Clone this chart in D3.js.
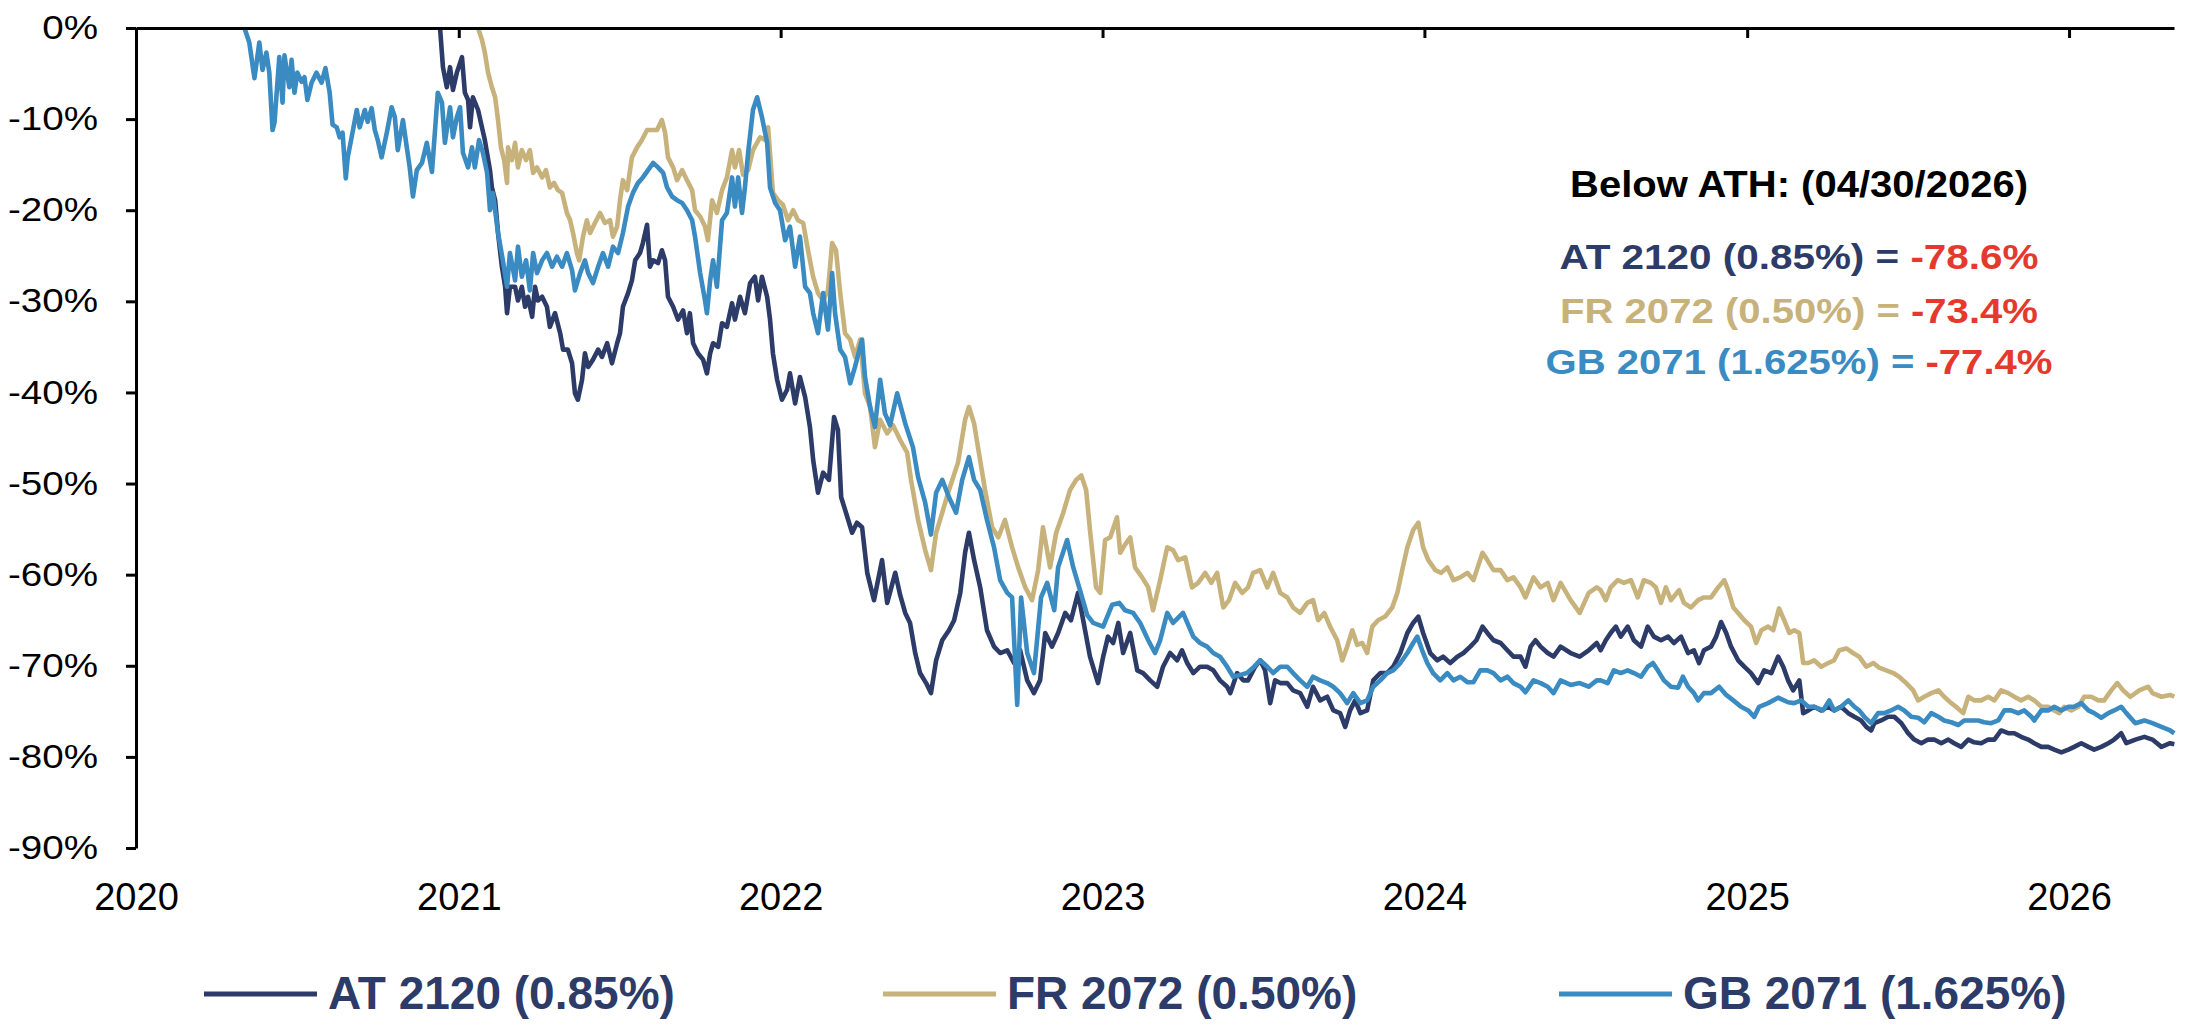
<!DOCTYPE html>
<html>
<head>
<meta charset="utf-8">
<script src="https://cdn.jsdelivr.net/npm/d3@7"></script>
<style>
    html, body { margin: 0; padding: 0; background: #fff; }
    svg { display: block; }
</style>
</head>
<body>
<div id="chart"></div>
<script>
// drawdown from all-time high, in %, dates as decimal years
let atSeries = [[2020.942,0],[2020.951,-4.3],[2020.963,-6.5],[2020.973,-4.3],[2020.982,-6.8],[2020.994,-4.9],[2021.010,-3.2],[2021.019,-7.1],[2021.029,-7.9],[2021.035,-10.9],[2021.044,-7.6],[2021.060,-9.0],[2021.072,-10.9],[2021.081,-12.3],[2021.097,-15.6],[2021.103,-17.5],[2021.113,-18.9],[2021.122,-22.5],[2021.134,-26.2],[2021.144,-28.4],[2021.150,-31.3],[2021.159,-28.4],[2021.175,-28.4],[2021.184,-29.9],[2021.196,-28.4],[2021.206,-30.6],[2021.215,-29.5],[2021.228,-31.7],[2021.237,-28.4],[2021.246,-29.9],[2021.259,-29.5],[2021.274,-30.6],[2021.283,-32.8],[2021.299,-31.3],[2021.315,-33.5],[2021.324,-35.3],[2021.339,-35.3],[2021.352,-36.8],[2021.361,-40.1],[2021.370,-40.8],[2021.383,-38.6],[2021.392,-35.7],[2021.402,-37.2],[2021.417,-36.4],[2021.433,-35.3],[2021.445,-36.1],[2021.461,-34.6],[2021.476,-36.8],[2021.492,-34.6],[2021.501,-33.5],[2021.510,-30.6],[2021.526,-29.1],[2021.538,-27.7],[2021.548,-25.5],[2021.563,-24.7],[2021.572,-23.6],[2021.585,-21.6],[2021.594,-26.2],[2021.604,-25.5],[2021.619,-25.8],[2021.631,-24.4],[2021.641,-25.5],[2021.650,-29.5],[2021.666,-30.6],[2021.681,-32.0],[2021.697,-31.0],[2021.709,-33.5],[2021.718,-31.3],[2021.728,-34.6],[2021.743,-35.7],[2021.759,-36.4],[2021.771,-37.9],[2021.781,-35.7],[2021.790,-34.6],[2021.806,-35.0],[2021.818,-32.4],[2021.833,-32.8],[2021.849,-30.2],[2021.858,-32.0],[2021.874,-29.5],[2021.889,-31.3],[2021.905,-28.0],[2021.920,-27.3],[2021.930,-29.9],[2021.942,-27.3],[2021.958,-29.5],[2021.967,-32.0],[2021.976,-35.7],[2021.989,-38.6],[2022.004,-40.8],[2022.020,-39.7],[2022.029,-37.9],[2022.045,-41.2],[2022.060,-38.3],[2022.076,-40.5],[2022.091,-43.8],[2022.101,-47.4],[2022.116,-51.0],[2022.132,-48.8],[2022.150,-49.6],[2022.166,-42.7],[2022.178,-44.1],[2022.188,-51.5],[2022.203,-53.2],[2022.222,-55.4],[2022.237,-54.3],[2022.253,-54.8],[2022.269,-59.8],[2022.290,-62.8],[2022.315,-58.4],[2022.331,-63.1],[2022.356,-59.8],[2022.371,-62.2],[2022.387,-64.2],[2022.402,-65.3],[2022.418,-68.6],[2022.433,-70.8],[2022.452,-71.9],[2022.467,-73.0],[2022.483,-69.4],[2022.502,-67.2],[2022.523,-66.1],[2022.539,-65.0],[2022.558,-62.0],[2022.573,-57.6],[2022.585,-55.4],[2022.601,-58.4],[2022.620,-61.4],[2022.641,-66.1],[2022.663,-67.9],[2022.682,-68.6],[2022.704,-68.3],[2022.725,-69.7],[2022.744,-68.3],[2022.766,-71.6],[2022.787,-73.0],[2022.806,-71.6],[2022.822,-66.4],[2022.843,-67.9],[2022.862,-66.4],[2022.884,-64.2],[2022.902,-65.0],[2022.924,-62.0],[2022.940,-65.0],[2022.961,-69.0],[2022.986,-71.9],[2023.002,-69.0],[2023.017,-66.8],[2023.033,-67.5],[2023.049,-65.3],[2023.064,-68.6],[2023.086,-66.4],[2023.108,-70.5],[2023.126,-70.8],[2023.148,-71.6],[2023.170,-72.3],[2023.188,-70.1],[2023.210,-68.6],[2023.232,-69.4],[2023.247,-68.3],[2023.263,-69.7],[2023.282,-70.8],[2023.303,-70.1],[2023.325,-70.1],[2023.344,-70.5],[2023.365,-71.6],[2023.387,-72.3],[2023.397,-73.0],[2023.418,-70.8],[2023.437,-71.6],[2023.452,-71.6],[2023.474,-70.1],[2023.490,-69.4],[2023.505,-70.5],[2023.521,-74.1],[2023.536,-71.6],[2023.552,-71.9],[2023.574,-71.9],[2023.592,-72.7],[2023.614,-73.0],[2023.636,-74.5],[2023.654,-72.3],[2023.676,-73.8],[2023.698,-73.4],[2023.717,-74.9],[2023.738,-75.2],[2023.754,-76.7],[2023.769,-74.9],[2023.785,-73.8],[2023.801,-75.2],[2023.822,-74.9],[2023.841,-71.6],[2023.863,-70.8],[2023.884,-70.8],[2023.903,-70.1],[2023.925,-68.6],[2023.947,-66.4],[2023.965,-65.3],[2023.981,-64.6],[2023.996,-66.4],[2024.018,-68.6],[2024.040,-69.4],[2024.058,-69.0],[2024.080,-69.7],[2024.102,-69.0],[2024.121,-68.6],[2024.142,-67.9],[2024.161,-67.2],[2024.180,-65.7],[2024.195,-66.4],[2024.214,-67.2],[2024.236,-67.5],[2024.257,-68.3],[2024.276,-69.0],[2024.298,-69.0],[2024.313,-70.1],[2024.329,-67.9],[2024.344,-67.2],[2024.360,-67.9],[2024.382,-68.6],[2024.400,-69.0],[2024.422,-67.9],[2024.453,-68.6],[2024.481,-69.0],[2024.509,-68.3],[2024.534,-67.5],[2024.546,-68.3],[2024.562,-67.2],[2024.577,-66.4],[2024.593,-65.7],[2024.608,-66.8],[2024.630,-65.7],[2024.649,-67.2],[2024.671,-67.9],[2024.692,-65.7],[2024.711,-66.8],[2024.733,-67.2],[2024.755,-66.8],[2024.773,-67.5],[2024.795,-66.8],[2024.817,-68.6],[2024.835,-68.3],[2024.851,-69.7],[2024.866,-68.3],[2024.888,-67.9],[2024.904,-66.8],[2024.919,-65.2],[2024.935,-66.4],[2024.950,-67.9],[2024.972,-69.4],[2024.991,-70.1],[2025.012,-70.8],[2025.034,-71.9],[2025.053,-70.5],[2025.075,-70.8],[2025.096,-69.0],[2025.112,-70.1],[2025.127,-71.6],[2025.143,-72.7],[2025.162,-71.6],[2025.174,-75.2],[2025.190,-74.9],[2025.208,-74.5],[2025.230,-74.9],[2025.252,-74.5],[2025.270,-74.9],[2025.292,-74.5],[2025.314,-75.2],[2025.333,-75.6],[2025.354,-76.0],[2025.370,-76.7],[2025.385,-77.1],[2025.395,-76.3],[2025.416,-76.0],[2025.438,-75.6],[2025.457,-75.6],[2025.479,-76.3],[2025.500,-77.4],[2025.519,-78.1],[2025.541,-78.5],[2025.562,-78.1],[2025.581,-78.1],[2025.603,-78.5],[2025.625,-78.1],[2025.643,-78.5],[2025.665,-78.9],[2025.687,-78.1],[2025.705,-78.4],[2025.727,-78.5],[2025.749,-78.1],[2025.768,-78.1],[2025.789,-77.1],[2025.811,-77.4],[2025.830,-77.4],[2025.851,-77.8],[2025.873,-78.1],[2025.892,-78.5],[2025.914,-78.9],[2025.935,-78.9],[2025.954,-79.2],[2025.976,-79.5],[2025.998,-79.2],[2026.016,-78.9],[2026.038,-78.5],[2026.060,-78.9],[2026.078,-79.2],[2026.100,-78.9],[2026.122,-78.5],[2026.140,-78.1],[2026.162,-77.4],[2026.178,-78.5],[2026.206,-78.1],[2026.234,-77.8],[2026.259,-78.1],[2026.287,-78.9],[2026.314,-78.5],[2026.327,-78.6]];

let frSeries = [[2021.060,0],[2021.072,-1.3],[2021.081,-2.7],[2021.091,-4.9],[2021.103,-6.5],[2021.113,-7.6],[2021.122,-10.1],[2021.131,-13.1],[2021.141,-14.5],[2021.150,-17.0],[2021.153,-13.1],[2021.165,-14.5],[2021.175,-12.6],[2021.184,-15.3],[2021.196,-13.4],[2021.209,-14.5],[2021.221,-13.4],[2021.231,-15.9],[2021.243,-15.3],[2021.259,-16.4],[2021.271,-15.6],[2021.283,-17.5],[2021.296,-17.0],[2021.308,-17.8],[2021.321,-18.1],[2021.336,-20.3],[2021.346,-21.1],[2021.355,-22.5],[2021.367,-24.7],[2021.374,-25.5],[2021.386,-22.9],[2021.398,-21.1],[2021.408,-22.5],[2021.423,-21.4],[2021.439,-20.3],[2021.454,-21.4],[2021.470,-21.1],[2021.479,-22.9],[2021.492,-21.8],[2021.501,-18.9],[2021.510,-16.7],[2021.523,-17.8],[2021.538,-14.2],[2021.554,-13.1],[2021.569,-12.3],[2021.585,-11.2],[2021.600,-11.2],[2021.616,-11.2],[2021.631,-10.1],[2021.641,-11.5],[2021.650,-14.2],[2021.666,-15.3],[2021.678,-16.7],[2021.694,-15.6],[2021.709,-16.7],[2021.725,-17.8],[2021.734,-20.0],[2021.750,-20.7],[2021.765,-21.8],[2021.774,-23.3],[2021.787,-18.9],[2021.802,-20.3],[2021.818,-17.8],[2021.833,-16.4],[2021.849,-13.4],[2021.858,-15.3],[2021.871,-13.4],[2021.883,-16.1],[2021.899,-15.6],[2021.914,-13.4],[2021.936,-12.0],[2021.952,-12.3],[2021.961,-10.9],[2021.967,-13.7],[2021.976,-18.1],[2021.992,-18.9],[2022.007,-19.4],[2022.023,-21.1],[2022.039,-20.0],[2022.054,-21.1],[2022.070,-21.4],[2022.085,-24.4],[2022.101,-27.3],[2022.116,-29.1],[2022.132,-29.9],[2022.147,-28.8],[2022.160,-23.6],[2022.172,-24.4],[2022.185,-29.1],[2022.200,-33.5],[2022.216,-34.2],[2022.231,-36.1],[2022.247,-34.2],[2022.262,-40.1],[2022.278,-41.6],[2022.293,-46.0],[2022.309,-43.0],[2022.331,-44.5],[2022.349,-43.6],[2022.371,-45.2],[2022.393,-46.6],[2022.405,-49.6],[2022.427,-54.0],[2022.449,-57.3],[2022.467,-59.5],[2022.483,-55.4],[2022.502,-53.2],[2022.523,-50.7],[2022.551,-47.7],[2022.573,-43.0],[2022.585,-41.6],[2022.601,-43.4],[2022.613,-46.0],[2022.635,-50.7],[2022.657,-54.8],[2022.676,-55.9],[2022.697,-54.0],[2022.719,-57.0],[2022.738,-59.2],[2022.760,-61.4],[2022.781,-62.8],[2022.800,-59.5],[2022.815,-54.8],[2022.837,-59.2],[2022.856,-55.4],[2022.878,-53.2],[2022.899,-50.7],[2022.918,-49.6],[2022.934,-49.1],[2022.949,-50.7],[2022.961,-55.1],[2022.980,-61.4],[2022.993,-62.0],[2023.008,-56.2],[2023.024,-55.9],[2023.045,-53.7],[2023.055,-57.6],[2023.070,-56.7],[2023.086,-55.9],[2023.101,-59.2],[2023.123,-60.3],[2023.142,-61.4],[2023.157,-63.9],[2023.179,-60.6],[2023.201,-57.0],[2023.219,-57.3],[2023.235,-58.4],[2023.257,-58.1],[2023.278,-61.4],[2023.297,-60.9],[2023.319,-59.8],[2023.338,-60.9],[2023.356,-59.8],[2023.375,-63.6],[2023.393,-62.8],[2023.412,-60.9],[2023.434,-62.0],[2023.452,-61.4],[2023.468,-59.8],[2023.490,-59.5],[2023.512,-61.4],[2023.530,-59.8],[2023.552,-62.0],[2023.574,-62.5],[2023.592,-63.6],[2023.614,-64.2],[2023.636,-63.1],[2023.654,-62.8],[2023.670,-65.0],[2023.689,-64.2],[2023.707,-65.7],[2023.729,-67.2],[2023.745,-69.4],[2023.760,-67.9],[2023.776,-66.1],[2023.791,-67.7],[2023.807,-67.5],[2023.822,-68.6],[2023.838,-65.7],[2023.856,-65.0],[2023.878,-64.6],[2023.900,-63.6],[2023.916,-62.0],[2023.931,-59.5],[2023.947,-57.0],[2023.965,-55.1],[2023.981,-54.3],[2023.996,-57.0],[2024.012,-58.4],[2024.034,-59.5],[2024.052,-59.8],[2024.071,-59.2],[2024.090,-60.6],[2024.111,-60.3],[2024.133,-59.8],[2024.152,-60.6],[2024.180,-57.6],[2024.195,-58.4],[2024.214,-59.5],[2024.236,-59.5],[2024.257,-60.6],[2024.276,-60.3],[2024.298,-61.4],[2024.313,-62.5],[2024.338,-60.3],[2024.360,-61.4],[2024.382,-60.9],[2024.400,-62.8],[2024.422,-60.9],[2024.453,-62.8],[2024.481,-64.2],[2024.509,-62.0],[2024.534,-61.4],[2024.546,-61.7],[2024.562,-62.8],[2024.577,-61.4],[2024.599,-60.6],[2024.618,-60.9],[2024.640,-60.6],[2024.661,-62.5],[2024.680,-60.6],[2024.702,-60.9],[2024.717,-61.4],[2024.733,-63.1],[2024.748,-61.4],[2024.764,-62.8],[2024.789,-61.7],[2024.804,-63.1],[2024.826,-63.6],[2024.848,-62.8],[2024.866,-62.5],[2024.888,-62.5],[2024.910,-61.4],[2024.929,-60.6],[2024.941,-61.7],[2024.957,-63.6],[2024.972,-64.2],[2024.991,-65.0],[2025.012,-65.7],[2025.028,-67.5],[2025.044,-66.1],[2025.065,-65.7],[2025.081,-66.1],[2025.099,-63.7],[2025.115,-65.0],[2025.131,-66.4],[2025.146,-66.1],[2025.162,-66.4],[2025.174,-69.7],[2025.190,-69.7],[2025.208,-69.4],[2025.230,-70.1],[2025.252,-69.7],[2025.270,-69.4],[2025.286,-68.3],[2025.308,-68.1],[2025.329,-68.6],[2025.348,-69.0],[2025.370,-70.1],[2025.392,-69.7],[2025.410,-70.2],[2025.432,-70.5],[2025.454,-70.8],[2025.472,-71.2],[2025.494,-71.9],[2025.516,-72.7],[2025.531,-73.8],[2025.550,-73.4],[2025.572,-73.0],[2025.594,-72.7],[2025.612,-73.4],[2025.634,-74.1],[2025.649,-74.5],[2025.671,-75.2],[2025.687,-73.4],[2025.705,-73.8],[2025.727,-73.8],[2025.749,-73.4],[2025.768,-73.8],[2025.789,-72.7],[2025.811,-73.0],[2025.830,-73.4],[2025.851,-73.8],[2025.873,-73.4],[2025.892,-73.8],[2025.914,-74.5],[2025.935,-74.5],[2025.954,-74.9],[2025.970,-75.2],[2025.985,-74.5],[2026.007,-74.9],[2026.029,-74.5],[2026.047,-73.4],[2026.069,-73.4],[2026.091,-73.8],[2026.109,-73.8],[2026.131,-72.7],[2026.150,-71.9],[2026.168,-72.7],[2026.190,-73.4],[2026.218,-72.7],[2026.246,-72.3],[2026.259,-73.0],[2026.287,-73.4],[2026.314,-73.2],[2026.327,-73.4]];

let gbSeries = [[2020.336,0],[2020.351,-1.6],[2020.367,-5.5],[2020.382,-1.6],[2020.392,-4.6],[2020.404,-2.7],[2020.413,-4.9],[2020.423,-11.2],[2020.429,-10.4],[2020.444,-3.2],[2020.454,-8.2],[2020.460,-3.0],[2020.475,-6.5],[2020.482,-3.5],[2020.491,-7.1],[2020.500,-4.9],[2020.513,-5.9],[2020.522,-5.4],[2020.531,-7.9],[2020.544,-6.0],[2020.559,-4.9],[2020.575,-6.0],[2020.587,-4.4],[2020.600,-7.1],[2020.609,-10.6],[2020.622,-10.9],[2020.631,-12.0],[2020.640,-11.5],[2020.650,-16.5],[2020.656,-14.2],[2020.668,-12.0],[2020.684,-9.0],[2020.693,-10.9],[2020.709,-9.0],[2020.718,-10.3],[2020.730,-8.8],[2020.740,-11.2],[2020.749,-12.3],[2020.761,-14.2],[2020.777,-11.5],[2020.792,-8.7],[2020.802,-9.8],[2020.811,-13.4],[2020.827,-10.1],[2020.839,-13.1],[2020.848,-15.3],[2020.858,-18.5],[2020.870,-15.6],[2020.886,-14.8],[2020.901,-12.6],[2020.917,-15.8],[2020.935,-7.1],[2020.948,-8.2],[2020.957,-12.6],[2020.973,-8.7],[2020.982,-12.0],[2020.994,-9.8],[2021.004,-8.7],[2021.013,-13.7],[2021.029,-15.3],[2021.041,-13.1],[2021.050,-15.3],[2021.063,-12.3],[2021.075,-13.7],[2021.088,-15.9],[2021.097,-20.0],[2021.106,-18.1],[2021.122,-22.5],[2021.137,-25.5],[2021.150,-28.4],[2021.159,-24.7],[2021.175,-27.7],[2021.184,-24.0],[2021.196,-27.3],[2021.209,-25.5],[2021.221,-28.8],[2021.231,-24.7],[2021.243,-26.9],[2021.259,-25.5],[2021.274,-24.7],[2021.290,-26.2],[2021.305,-25.1],[2021.321,-26.2],[2021.336,-24.7],[2021.352,-26.6],[2021.361,-28.8],[2021.377,-26.9],[2021.392,-25.5],[2021.402,-26.9],[2021.417,-28.0],[2021.433,-26.2],[2021.448,-24.7],[2021.464,-26.2],[2021.479,-24.0],[2021.495,-24.7],[2021.510,-22.5],[2021.526,-19.6],[2021.541,-18.1],[2021.557,-17.0],[2021.572,-16.4],[2021.588,-15.6],[2021.604,-14.8],[2021.619,-15.3],[2021.635,-15.9],[2021.647,-17.5],[2021.663,-18.5],[2021.678,-18.9],[2021.694,-19.2],[2021.709,-20.0],[2021.725,-21.1],[2021.734,-22.9],[2021.750,-26.9],[2021.765,-29.9],[2021.771,-31.3],[2021.781,-27.7],[2021.790,-25.5],[2021.802,-28.4],[2021.818,-21.1],[2021.833,-20.3],[2021.849,-16.4],[2021.858,-19.6],[2021.868,-16.4],[2021.880,-20.3],[2021.889,-17.5],[2021.899,-13.7],[2021.914,-9.0],[2021.927,-7.6],[2021.942,-9.8],[2021.958,-12.6],[2021.967,-17.5],[2021.983,-19.2],[2021.998,-20.0],[2022.014,-23.3],[2022.029,-21.8],[2022.045,-26.2],[2022.060,-22.9],[2022.076,-28.4],[2022.091,-29.1],[2022.101,-31.3],[2022.116,-33.5],[2022.132,-29.1],[2022.147,-33.1],[2022.160,-26.9],[2022.169,-31.3],[2022.185,-35.3],[2022.200,-36.1],[2022.216,-39.0],[2022.231,-37.2],[2022.253,-34.2],[2022.262,-38.3],[2022.278,-41.6],[2022.293,-43.8],[2022.309,-38.6],[2022.324,-42.3],[2022.340,-43.6],[2022.362,-40.1],[2022.387,-43.4],[2022.411,-46.0],[2022.427,-49.3],[2022.449,-52.1],[2022.467,-55.6],[2022.483,-51.0],[2022.502,-49.6],[2022.523,-51.5],[2022.545,-53.2],[2022.564,-49.6],[2022.585,-47.1],[2022.601,-49.6],[2022.620,-50.7],[2022.641,-54.0],[2022.663,-57.0],[2022.682,-60.6],[2022.704,-62.0],[2022.719,-62.5],[2022.735,-74.3],[2022.747,-62.5],[2022.766,-68.6],[2022.787,-70.8],[2022.809,-62.5],[2022.828,-60.9],[2022.850,-63.9],[2022.862,-59.2],[2022.890,-56.2],[2022.909,-59.2],[2022.930,-61.7],[2022.952,-64.4],[2022.971,-65.3],[2023.002,-65.7],[2023.030,-63.3],[2023.052,-63.1],[2023.070,-63.9],[2023.095,-64.2],[2023.117,-65.3],[2023.142,-67.2],[2023.163,-68.6],[2023.179,-67.2],[2023.201,-64.2],[2023.219,-65.3],[2023.250,-64.2],[2023.282,-66.8],[2023.303,-67.5],[2023.325,-67.9],[2023.344,-68.6],[2023.365,-69.0],[2023.387,-70.1],[2023.406,-71.2],[2023.428,-71.0],[2023.449,-70.8],[2023.471,-70.1],[2023.490,-69.4],[2023.512,-70.1],[2023.530,-70.8],[2023.552,-70.1],[2023.574,-70.1],[2023.592,-70.8],[2023.614,-71.6],[2023.636,-72.3],[2023.654,-71.2],[2023.676,-71.6],[2023.698,-71.9],[2023.717,-72.3],[2023.738,-73.0],[2023.760,-74.1],[2023.779,-73.0],[2023.801,-74.1],[2023.822,-73.8],[2023.841,-72.3],[2023.863,-71.6],[2023.884,-70.8],[2023.903,-70.5],[2023.925,-69.7],[2023.947,-68.6],[2023.965,-67.5],[2023.978,-66.8],[2023.993,-68.3],[2024.009,-69.7],[2024.027,-70.8],[2024.049,-71.6],[2024.071,-70.8],[2024.090,-71.6],[2024.111,-71.2],[2024.133,-71.8],[2024.152,-71.8],[2024.173,-70.5],[2024.195,-70.5],[2024.214,-70.8],[2024.236,-71.6],[2024.257,-71.2],[2024.276,-71.9],[2024.298,-72.3],[2024.313,-72.9],[2024.338,-71.6],[2024.360,-71.9],[2024.382,-72.3],[2024.400,-73.0],[2024.422,-71.6],[2024.453,-72.1],[2024.481,-71.9],[2024.509,-72.3],[2024.534,-71.6],[2024.546,-71.6],[2024.568,-71.9],[2024.587,-70.5],[2024.608,-70.8],[2024.630,-70.5],[2024.649,-70.8],[2024.671,-71.2],[2024.692,-70.1],[2024.708,-69.7],[2024.723,-70.5],[2024.742,-71.6],[2024.764,-72.3],[2024.786,-72.4],[2024.801,-71.2],[2024.817,-72.3],[2024.835,-73.0],[2024.848,-73.8],[2024.866,-73.0],[2024.888,-73.0],[2024.913,-72.3],[2024.935,-73.2],[2024.957,-73.8],[2024.981,-74.5],[2025.003,-74.9],[2025.022,-75.6],[2025.037,-74.5],[2025.065,-74.1],[2025.096,-73.5],[2025.127,-74.0],[2025.146,-74.1],[2025.168,-73.8],[2025.190,-74.5],[2025.208,-74.5],[2025.236,-74.9],[2025.255,-73.8],[2025.270,-74.9],[2025.292,-74.5],[2025.314,-73.8],[2025.333,-74.5],[2025.348,-74.9],[2025.364,-75.6],[2025.385,-76.3],[2025.407,-75.2],[2025.426,-75.2],[2025.447,-74.9],[2025.469,-74.5],[2025.488,-74.9],[2025.510,-75.6],[2025.531,-75.7],[2025.550,-76.2],[2025.572,-75.2],[2025.594,-75.6],[2025.612,-76.0],[2025.634,-76.2],[2025.656,-76.5],[2025.674,-76.0],[2025.696,-76.0],[2025.718,-76.0],[2025.736,-76.2],[2025.758,-76.3],[2025.780,-76.0],[2025.799,-74.9],[2025.820,-74.9],[2025.842,-75.2],[2025.861,-74.9],[2025.883,-75.6],[2025.892,-76.0],[2025.914,-74.9],[2025.935,-74.9],[2025.954,-74.5],[2025.976,-74.9],[2025.998,-74.5],[2026.016,-74.5],[2026.038,-74.1],[2026.060,-74.9],[2026.078,-75.2],[2026.100,-75.7],[2026.122,-75.2],[2026.140,-74.9],[2026.162,-74.5],[2026.178,-75.2],[2026.206,-76.3],[2026.234,-76.0],[2026.259,-76.3],[2026.287,-76.7],[2026.314,-77.1],[2026.327,-77.4]];

let seriesNames = ['AT 2120 (0.85%)', 'FR 2072 (0.50%)', 'GB 2071 (1.625%)'];
let seriesColors = ['#2c3b68', '#c8b27b', '#3a8bc1'];
let athDateLabel = '04/30/2026';
let athValues = [-78.6, -73.4, -77.4];
let yTicks = [0, -10, -20, -30, -40, -50, -60, -70, -80, -90];
let yearTicks = [2020, 2021, 2022, 2023, 2024, 2025, 2026];

let W = 2190, H = 1028;
let FONT = '"Liberation Sans", Arial, Helvetica, sans-serif';
let navy = seriesColors[0];

//小数年份 -> Date
let toDate = function (yr) {
    let y0 = Math.floor(yr);
    let a = new Date(y0, 0, 1), b = new Date(y0 + 1, 0, 1);
    return new Date(+a + (yr - y0) * (b - a));
};

let svg = d3.select('#chart').append('svg')
    .attr('width', W).attr('height', H)
    .style('font-family', FONT);

let x = d3.scaleTime()
    .domain([new Date(2020, 0, 1), new Date(2026, 3, 30)])
    .range([136, 2174]);
let y = d3.scaleLinear()
    .domain([-90, 0])
    .range([848, 28]);

//lines
let line = d3.line()
    .x(function (d) { return x(toDate(d[0])) })
    .y(function (d) { return y(d[1]) });

let allSeries = [atSeries, frSeries, gbSeries];
svg.append('g').selectAll('path')
    .data(allSeries)
    .enter()
    .append('path')
    .attr('d', function (d) { return line(d) })
    .attr('fill', 'none')
    .attr('stroke', function (d, i) { return seriesColors[i] })
    .attr('stroke-width', 4.6)
    .attr('stroke-linejoin', 'round');

//x axis line at 0% with ticks pointing down
let yearDates = yearTicks.map(function (yr) { return new Date(yr, 0, 1) });
svg.append('g')
    .attr('transform', 'translate(0,' + y(0) + ')')
    .call(d3.axisTop(x).tickValues(yearDates).tickSizeInner(-10).tickSizeOuter(0).tickFormat(''))
    .call(function (g) {
        g.select('.domain').attr('stroke', '#000').attr('stroke-width', 3);
        g.selectAll('.tick line').attr('stroke', '#000').attr('stroke-width', 3);
    });

//year labels below the plot
svg.append('g')
    .attr('transform', 'translate(0,' + y(-90) + ')')
    .call(d3.axisBottom(x).tickValues(yearDates).tickSize(0).tickPadding(35).tickFormat(d3.timeFormat('%Y')))
    .call(function (g) {
        g.select('.domain').remove();
        g.attr('font-family', FONT).attr('font-size', 38);
        g.selectAll('text').attr('fill', '#000');
    });

//y axis
let yStretch = 1.17;
svg.append('g')
    .attr('transform', 'translate(' + x(new Date(2020, 0, 1)) + ',0)')
    .call(d3.axisLeft(y).tickValues(yTicks).tickSizeInner(10).tickSizeOuter(0)
        .tickFormat(function (d) { return d + '%' }))
    .call(function (g) {
        g.attr('font-family', FONT).attr('font-size', 33);
        g.select('.domain').attr('stroke', '#000').attr('stroke-width', 3);
        g.selectAll('.tick line').attr('stroke', '#000').attr('stroke-width', 3);
        g.selectAll('text')
            .attr('fill', '#000')
            .attr('x', -38 / yStretch)
            .attr('transform', 'scale(' + yStretch + ',1)');
    });

//annotation
let noteX = 1799;
svg.append('text')
    .attr('x', noteX).attr('y', 197)
    .attr('text-anchor', 'middle')
    .attr('font-size', 37).attr('font-weight', 'bold')
    .attr('fill', '#000')
    .attr('textLength', 458).attr('lengthAdjust', 'spacingAndGlyphs')
    .text('Below ATH: (' + athDateLabel + ')');

let rowY = [269, 323, 374];
let rowLen = [479, 478, 507];
seriesNames.forEach(function (name, i) {
    let t = svg.append('text')
        .attr('x', noteX).attr('y', rowY[i])
        .attr('text-anchor', 'middle')
        .attr('font-size', 35).attr('font-weight', 'bold')
        .attr('textLength', rowLen[i]).attr('lengthAdjust', 'spacingAndGlyphs');
    t.append('tspan').attr('fill', seriesColors[i]).text(name + ' = ');
    t.append('tspan').attr('fill', '#e5392e').text(athValues[i].toFixed(1) + '%');
});

//legend
let legendX = [204, 883, 1559];
let legend = svg.append('g').selectAll('g')
    .data(seriesNames)
    .enter()
    .append('g')
    .attr('transform', function (d, i) { return 'translate(' + legendX[i] + ',994)' });
legend.append('line')
    .attr('x1', 0).attr('x2', 113)
    .attr('stroke', function (d, i) { return seriesColors[i] })
    .attr('stroke-width', 5);
legend.append('text')
    .attr('x', 124).attr('y', 15)
    .attr('font-size', 46).attr('font-weight', 'bold')
    .attr('fill', navy)
    .text(function (d) { return d });
</script>
</body>
</html>
